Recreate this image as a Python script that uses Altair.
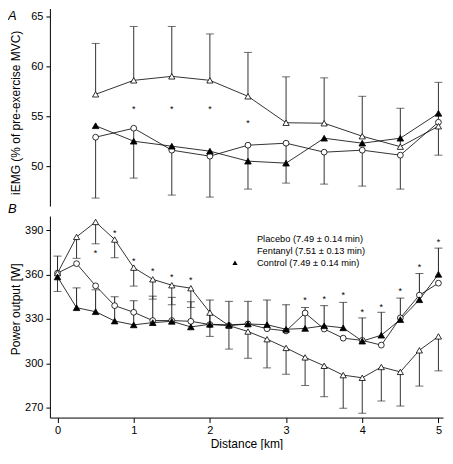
import altair as alt
import pandas as pd

# ---------------- data ----------------
SERIES = ["Placebo", "Fentanyl", "Control"]
LEGEND_LABELS = ["Placebo (7.49 \u00b1 0.14 min)",
                 "Fentanyl (7.51 \u00b1 0.13 min)",
                 "Control (7.49 \u00b1 0.14 min)"]

# Panel A : iEMG (% of pre-exercise MVC)
a_dist = [0.5, 1.0, 1.5, 2.0, 2.5, 3.0, 3.5, 4.0, 4.5, 5.0]
a_placebo = [52.9, 53.8, 51.6, 51.0, 52.1, 52.3, 51.4, 51.6, 51.1, 54.4]
a_placebo_lo = [46.8, 48.8, 47.1, 46.9, 47.7, 48.3, 48.2, 48.0, 47.7, 51.1]
a_fentanyl = [57.2, 58.6, 59.0, 58.6, 57.0, 54.35, 54.3, 53.0, 51.95, 54.0]
a_fentanyl_hi = [62.3, 64.0, 64.0, 63.25, 61.4, 58.95, 58.85, 57.0, 55.8, 58.4]
a_control = [54.05, 52.5, 52.0, 51.5, 50.5, 50.3, 52.8, 52.3, 52.8, 55.3]
a_star_dist = [1.0, 1.5, 2.0, 2.5]
a_star_val = [55.9, 55.9, 55.9, 54.55]

# Panel B : Power output [W]
b_dist = [0.0, 0.25, 0.5, 0.75, 1.0, 1.25, 1.5, 1.75, 2.0, 2.25, 2.5,
          2.75, 3.0, 3.25, 3.5, 3.75, 4.0, 4.25, 4.5, 4.75, 5.0]
b_placebo = [361.0, 367.4, 352.4, 339.0, 334.5, 328.9, 328.9, 328.4, 326.2, 325.5, 326.6,
             323.4, 321.9, 334.0, 323.2, 317.0, 315.5, 312.3, 330.7, 346.1, 354.2]
b_fentanyl = [361.0, 385.5, 395.6, 383.7, 364.7, 356.8, 352.8, 350.8, 334.3, 325.5, 321.5,
              316.3, 310.4, 304.0, 298.3, 292.0, 290.2, 297.5, 294.2, 308.8, 318.2]
b_control = [358.4, 337.6, 334.9, 328.6, 326.0, 327.5, 328.4, 324.6, 326.4, 326.0, 326.6,
             326.1, 323.0, 323.6, 325.4, 324.0, 315.0, 319.0, 329.6, 343.0, 360.2]
b_fentanyl_lo = [348.6, 371.0, 380.8, 371.4, 352.2, 343.4, 339.6, 337.8, 318.2, 309.6, 303.4,
                 296.9, 292.6, 285.0, 277.4, 269.6, 266.2, 274.5, 271.1, 284.6, 294.9]
b_control_hi = [372.5, 351.0, 349.7, 345.0, 342.3, 345.4, 344.6, 341.6, 342.8, 341.9, 341.9,
                342.8, 339.6, 337.8, 339.0, 341.2, 330.7, 334.5, 344.1, 360.7, 377.9]
b_star_dist = [0.5, 0.75, 1.0, 1.25, 1.5, 1.75, 3.25, 3.5, 3.75, 4.0, 4.25, 4.5, 4.75, 5.0]
b_star_val = [376.0, 389.8, 370.7, 364.0, 359.8, 358.0, 344.3, 345.0, 347.2, 336.0, 339.6,
              350.1, 366.3, 383.3]

# ---------------- tables ----------------
def long(dist, series_vals, names):
    rows = []
    for name, vals in zip(names, series_vals):
        for d, v in zip(dist, vals):
            rows.append({"dist": d, "value": v, "series": name})
    return pd.DataFrame(rows)

dfA = long(a_dist, [a_placebo, a_fentanyl, a_control], SERIES)
errA = pd.DataFrame(
    [{"dist": d, "start": s, "end": e, "grp": "P"} for d, s, e in zip(a_dist, a_placebo, a_placebo_lo)]
    + [{"dist": d, "start": s, "end": e, "grp": "F"} for d, s, e in zip(a_dist, a_fentanyl, a_fentanyl_hi)]
)
starA = pd.DataFrame({"dist": a_star_dist, "value": a_star_val})

dfB = long(b_dist, [b_placebo, b_fentanyl, b_control], LEGEND_LABELS)
errB = pd.DataFrame(
    [{"dist": d, "start": s, "end": e, "grp": "F"} for d, s, e in zip(b_dist, b_fentanyl, b_fentanyl_lo)]
    + [{"dist": d, "start": s, "end": e, "grp": "C"} for d, s, e in zip(b_dist, b_control, b_control_hi)]
)
starB = pd.DataFrame({"dist": b_star_dist, "value": b_star_val})

# ---------------- styling ----------------
W = 394
HA = 198
HB = 202
XDOM = [-0.1, 5.06]
SHAPES = ["circle", "triangle-up", "triangle-up"]
FILLS = ["white", "white", "black"]
SIZES = [34, 44, 44]
BAR_COLORS = alt.Scale(domain=["P", "F", "C"], range=["#333333", "#333333", "#222222"])
BAR_COLORS_B = alt.Scale(domain=["F", "C"], range=["#7a7a7a", "#222222"])

LEG_PATHS = [
    "M-1.3,0H-0.48M0.48,0H1.3M0.48,0A0.48,0.48,0,1,1,-0.48,0A0.48,0.48,0,1,1,0.48,0Z",
    "M-1.3,0H-0.3M0.3,0H1.3M0,-0.55L0.52,0.4L-0.52,0.4Z",
    "M-1.3,0H-0.3M0.3,0H1.3M0,-0.55L0.52,0.4L-0.52,0.4Z",
]


def panel(df, err, stars, names, ydom, yticks, ytitle, title_y, xaxis, bar_scale):
    xenc = alt.X("dist:Q", scale=alt.Scale(domain=XDOM, nice=False, zero=False), axis=xaxis)
    yscale = alt.Scale(domain=ydom, nice=False, zero=False)
    yaxis = alt.Axis(values=yticks, title=ytitle, titleX=-27, titleY=title_y, titleAngle=270,
                     titleAlign="center", titleBaseline="bottom", tickSize=4, labelPadding=3)
    base_err = alt.Chart(err)
    rules = base_err.mark_rule(strokeWidth=1).encode(
        x=xenc,
        y=alt.Y("start:Q", scale=yscale, axis=yaxis),
        y2="end:Q",
        color=alt.Color("grp:N", scale=bar_scale, legend=None),
    )
    caps = base_err.mark_tick(orient="horizontal", size=8, thickness=1).encode(
        x="dist:Q", y="end:Q",
        color=alt.Color("grp:N", scale=bar_scale, legend=None),
    )
    lines = alt.Chart(df).mark_line(color="black", strokeWidth=0.8).encode(
        x="dist:Q", y="value:Q", detail="series:N",
    )
    pts = alt.Chart(df).mark_point(filled=True, stroke="black", strokeWidth=0.8, opacity=1).encode(
        x="dist:Q", y="value:Q",
        shape=alt.Shape("series:N", scale=alt.Scale(domain=names, range=SHAPES), legend=None),
        fill=alt.Fill("series:N", scale=alt.Scale(domain=names, range=FILLS), legend=None),
        size=alt.Size("series:N", scale=alt.Scale(domain=names, range=SIZES), legend=None),
    )
    star = alt.Chart(stars).mark_text(text="*", fontSize=9, color="black", baseline="middle", dy=2).encode(
        x="dist:Q", y="value:Q",
    )
    return [rules, caps, lines, pts, star]


layersA = panel(dfA, errA, starA, SERIES, [46, 65.8], [50, 55, 60, 65],
                "iEMG (% of pre-exercise MVC)", 104, None, BAR_COLORS)
labA = alt.Chart(pd.DataFrame({"t": ["A"]})).mark_text(
    fontSize=13, fontStyle="italic", align="left", baseline="top", color="black"
).encode(x=alt.value(-42), y=alt.value(2), text="t:N")
labB = alt.Chart(pd.DataFrame({"t": ["B"]})).mark_text(
    fontSize=13, fontStyle="italic", align="left", baseline="bottom", color="black"
).encode(x=alt.value(-42), y=alt.value(HA + 10), text="t:N")
chartA = alt.layer(*layersA, labA, labB).properties(width=W, height=HA)

xaxisB = alt.Axis(values=[0, 1, 2, 3, 4, 5], title="Distance [km]", tickSize=5,
                  labelPadding=2, titlePadding=3, format="d")
layersB = panel(dfB, errB, starB, LEGEND_LABELS, [263.3, 399.6], [270, 300, 330, 360, 390],
                "Power output [W]", 93, xaxisB, BAR_COLORS_B)
leg = alt.Legend(title=None, orient="none", legendX=180, legendY=18, padding=0,
                 symbolOpacity=1, symbolStrokeColor="black", symbolStrokeWidth=0.8,
                 symbolSize=100, labelOffset=16.5, labelFontSize=9.3, labelColor="black",
                 rowPadding=0.85, labelLimit=300)
legend_layer = alt.Chart(dfB).mark_point(filled=False, opacity=0, size=100, stroke="black",
                                         strokeWidth=0.8).encode(
    x="dist:Q", y="value:Q",
    shape=alt.Shape("series:N", scale=alt.Scale(domain=LEGEND_LABELS, range=LEG_PATHS), legend=leg),
    fill=alt.Fill("series:N", scale=alt.Scale(domain=LEGEND_LABELS, range=FILLS), legend=leg),
)
chartB = alt.layer(*layersB, legend_layer).resolve_scale(
    shape="independent", fill="independent", size="independent"
).properties(width=W, height=HB)

chart = alt.vconcat(chartA, chartB, spacing=0).configure(
    font="Liberation Sans",
).configure_view(stroke=None).configure_axis(
    domainColor="black", tickColor="black", labelColor="black", titleColor="black",
    grid=False, labelFontSize=11, titleFontSize=12, titleFontWeight="normal",
    domainWidth=1, tickWidth=1,
).properties(padding=0)

chart.save("out.html", embed_options={"renderer": "svg", "actions": False})
